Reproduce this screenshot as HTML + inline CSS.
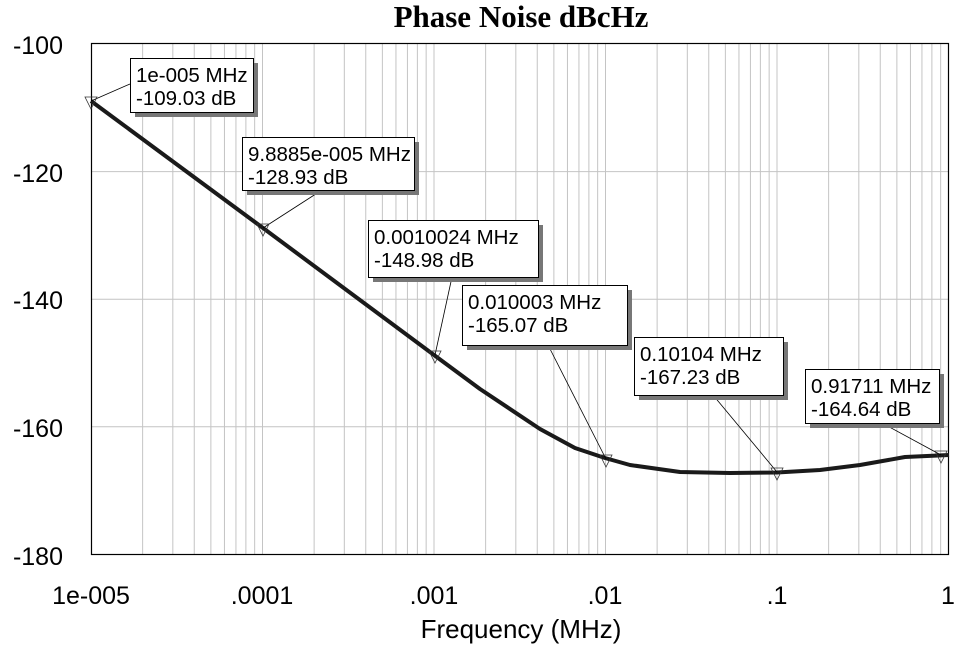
<!DOCTYPE html>
<html><head><meta charset="utf-8"><style>
body{margin:0;background:#fff;width:959px;height:646px;overflow:hidden}
svg{display:block}
text{font-family:"Liberation Sans",Arial,sans-serif}
</style></head><body>
<svg id="s" width="959" height="646" xmlns="http://www.w3.org/2000/svg">
<text x="521" y="27" text-anchor="middle" style="font-family:'Liberation Serif',serif;font-weight:bold;font-size:31px">Phase Noise dBcHz</text>
<g id="grid" stroke="#c4c4c4" stroke-width="1"></g>
<rect x="91.5" y="43.5" width="857" height="511" fill="none" stroke="#000" stroke-width="1.2"/>
<g font-size="25" text-anchor="end">
<text x="63" y="54">-100</text><text x="63" y="182">-120</text><text x="63" y="309">-140</text><text x="63" y="437">-160</text><text x="63" y="565">-180</text>
</g>
<g font-size="25" text-anchor="middle">
<text x="91" y="604">1e-005</text><text x="262" y="604">.0001</text><text x="434" y="604">.001</text><text x="605" y="604">.01</text><text x="777" y="604">.1</text><text x="948" y="604">1</text>
</g>
<text x="521" y="638" font-size="26" text-anchor="middle">Frequency (MHz)</text>
<polyline fill="none" stroke="#1a1a1a" stroke-width="4" stroke-linejoin="round" points="91,101 263,228 434,355 480,389 540,429 575,448 605,458 630,465 680,472 730,473 777,472.5 820,470 860,465 905,457 949,455"/>
<g id="ann" stroke="#000" stroke-width="0.8" fill="none"></g>
</svg>
<script>
var s=document.getElementById('s'),g=document.getElementById('grid'),a=document.getElementById('ann');
var NS='http://www.w3.org/2000/svg';
function el(p,t,at,txt){var e=document.createElementNS(NS,t);for(var k in at)e.setAttribute(k,at[k]);if(txt)e.textContent=txt;p.appendChild(e);return e;}
var x0=91,dec=171.5;
for(var d=0;d<5;d++)for(var m=1;m<10;m++){if(d==0&&m==1)continue;var x=x0+(d+Math.log10(m))*dec;el(g,'line',{x1:x,x2:x,y1:44,y2:554});}
for(var i=1;i<4;i++){var y=44+i*127.6;el(g,'line',{x1:91,x2:949,y1:y,y2:y});}
var B=[[130,58,123,54,'1e-005 MHz','-109.03 dB',130,84,91,101],
[242,137,172,53,'9.8885e-005 MHz','-128.93 dB',322,190,263,228],
[368,220,170,57,'0.0010024 MHz','-148.98 dB',452,277,435,355],
[462,285,165,60,'0.010003 MHz','-165.07 dB',548,345,606,459],
[634,337,149,58,'0.10104 MHz','-167.23 dB',713,395,777,472],
[805,369,134,54,'0.91711 MHz','-164.64 dB',882,423,941,455]];
B.forEach(function(b){
el(a,'line',{x1:b[6],y1:b[7],x2:b[8],y2:b[9]});
el(a,'polygon',{points:(b[8]-6)+','+(b[9]-4)+' '+(b[8]+6)+','+(b[9]-4)+' '+b[8]+','+(b[9]+8),fill:'none',stroke:'#333'});
el(s,'rect',{x:b[0]+5,y:b[1]+5,width:b[2],height:b[3],fill:'#777'});
el(s,'rect',{x:b[0]+0.5,y:b[1]+0.5,width:b[2],height:b[3],fill:'#fff',stroke:'#000','stroke-width':1});
el(s,'text',{x:b[0]+6,y:b[1]+24,'font-size':20.5},b[4]);
el(s,'text',{x:b[0]+6,y:b[1]+47,'font-size':20.5},b[5]);
});
</script>
</body></html>
